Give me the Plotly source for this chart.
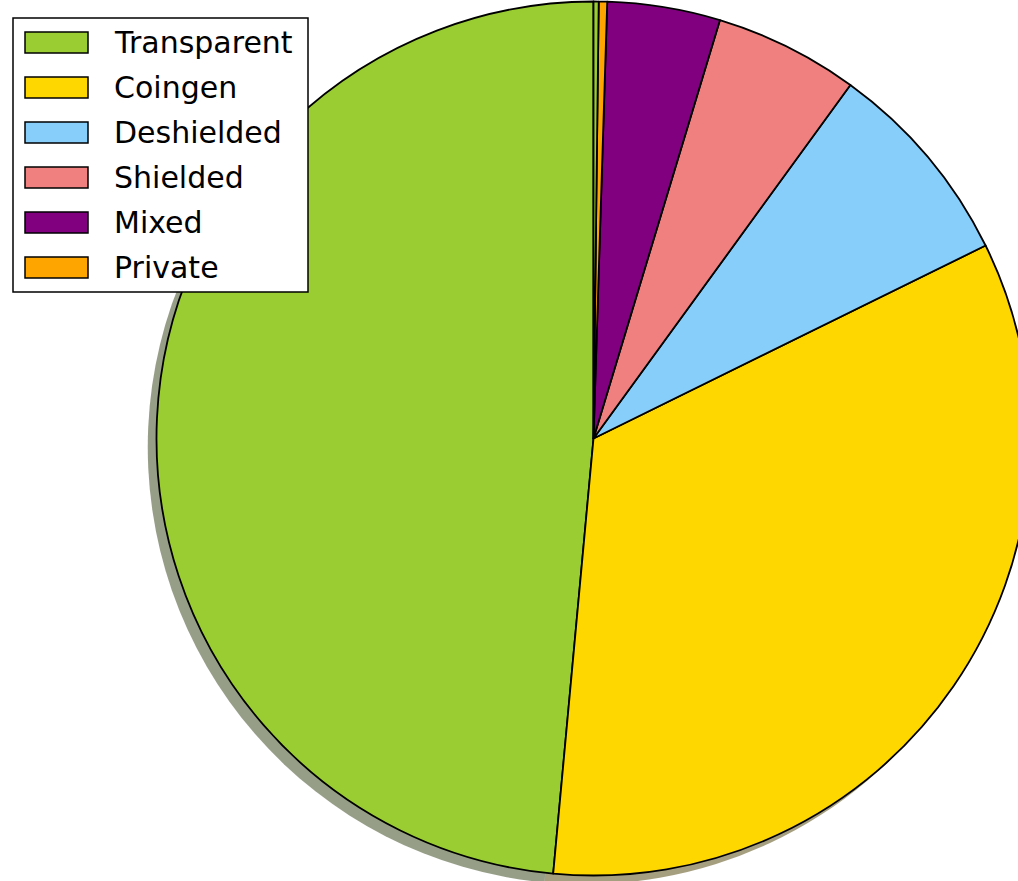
import plotly.graph_objects as go

# Transaction type shares (percent of all transactions)
categories = ["Transparent", "Coingen", "Deshielded", "Shielded", "Mixed", "Private", "Other"]
shares = [48.53, 33.75, 7.72, 5.33, 4.17, 0.31, 0.19]
legend_labels = ["Transparent", "Coingen", "Deshielded", "Shielded", "Mixed", "Private"]

colors = ["#9ACD32", "#FFD700", "#87CEFA", "#F08080", "#800080", "#FFA500", "#9ACD32"]

# Canvas size; the page viewport crops it to 1018x881
W, H = 1040, 890
VIEW_W, VIEW_H = 1018, 881


def fx(px):
    return px / W


def fy(py):
    return 1 - py / H


def shadow_rgba(hex_color):
    # darkened copy of the slice colour at half opacity
    r, g, b = (int(hex_color[i:i + 2], 16) for i in (1, 3, 5))
    return f"rgba({int(r * 0.3)},{int(g * 0.3)},{int(b * 0.3)},0.5)"


# Plotly's counterclockwise layout ends the first slice at `rotation`;
# shift it so the first slice starts at 12 o'clock and runs counterclockwise.
start_rotation = -360.0 * shares[0] / sum(shares)

cx, cy, rad = 593.5, 438.5, 437.0
shift = 0.02 * rad

fig = go.Figure()

# drop shadow underneath the pie
fig.add_trace(go.Pie(
    labels=categories, values=shares, sort=False, direction="counterclockwise",
    rotation=start_rotation, textinfo="none", hoverinfo="skip", showlegend=False,
    marker=dict(colors=[shadow_rgba(c) for c in colors], line=dict(width=0)),
    domain=dict(x=[fx(cx - shift - rad), fx(cx - shift + rad)],
                y=[fy(cy + shift + rad), fy(cy + shift - rad)]),
))

# main pie
fig.add_trace(go.Pie(
    labels=categories, values=shares, sort=False, direction="counterclockwise",
    rotation=start_rotation, textinfo="none", showlegend=False,
    marker=dict(colors=colors, line=dict(color="black", width=1.8)),
    domain=dict(x=[fx(cx - rad), fx(cx + rad)],
                y=[fy(cy + rad), fy(cy - rad)]),
))

# legend box drawn in the top-left corner
shapes = [dict(type="rect", xref="paper", yref="paper",
               x0=fx(13), x1=fx(308), y0=fy(292), y1=fy(18),
               line=dict(color="black", width=1.5), fillcolor="white", layer="above")]
annotations = []
for i, name in enumerate(legend_labels):
    yc = 42.5 + 45 * i
    shapes.append(dict(type="rect", xref="paper", yref="paper",
                       x0=fx(25), x1=fx(88), y0=fy(yc + 10.5), y1=fy(yc - 10.5),
                       line=dict(color="black", width=1.5), fillcolor=colors[i], layer="above"))
    annotations.append(dict(x=fx(112), y=fy(yc), xref="paper", yref="paper",
                            text=name, showarrow=False, xanchor="left", yanchor="middle",
                            font=dict(family="DejaVu Sans", size=30, color="black")))

fig.update_layout(
    width=W, height=H,
    margin=dict(l=0, r=0, t=0, b=0),
    paper_bgcolor="white", plot_bgcolor="white",
    shapes=shapes, annotations=annotations,
)

post = (
    "var gd=document.getElementById('{plot_id}');"
    "var wrap=gd.parentElement;"
    f"wrap.style.width='{VIEW_W}px';wrap.style.height='{VIEW_H}px';wrap.style.overflow='hidden';"
    "document.body.style.margin='0';document.body.style.overflow='hidden';"
)
fig.write_html("out.html", post_script=post, config={"displayModeBar": False})
